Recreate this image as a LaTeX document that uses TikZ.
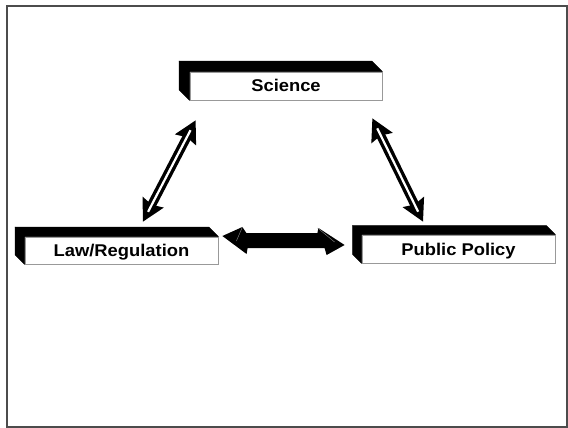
\documentclass[tikz,border=0pt]{standalone}
\usepackage{fontspec}
\setmainfont{Liberation Sans}
\newfontfamily\labelfont[FakeStretch=1.08]{Liberation Sans}
\usetikzlibrary{calc}

\tikzset{
  frontface/.style={draw=black!40, line width=0.8pt, fill=white,
    inner sep=0pt, text height=12pt, text depth=0pt,
    font=\labelfont\fontsize{17}{19}\selectfont\bfseries},
  sideface/.style={fill=black, draw=black, line width=0.4pt, line join=round},
  frameline/.style={draw=black!70, line width=1.6pt},
  facet/.style={draw=black!45, line width=0.4pt}
}

% extruded box: black top and left faces behind a white front face
\newcommand{\extrude}[2]{%
  \fill[sideface] (#1.north west) -- ++(-#2,-#2) -- ($(#1.north east)+(-#2,-#2)$) -- (#1.north east) -- cycle;
  \fill[sideface] (#1.north west) -- ++(-#2,-#2) -- ($(#1.south west)+(-#2,-#2)$) -- (#1.south west) -- cycle;
}

% double-line arrow with black heads at both ends
\newcommand{\twinarrow}[2]{%
  \draw[black, line width=9pt] ($(#1)!16pt!(#2)$) -- ($(#2)!16pt!(#1)$);
  \fill[black] (#1) -- ($($(#1)!22pt!(#2)$)!12pt!90:(#2)$) -- ($(#1)!19pt!(#2)$) -- ($($(#1)!22pt!(#2)$)!12pt!-90:(#2)$) -- cycle;
  \fill[black] (#2) -- ($($(#2)!22pt!(#1)$)!12pt!90:(#1)$) -- ($(#2)!19pt!(#1)$) -- ($($(#2)!22pt!(#1)$)!12pt!-90:(#1)$) -- cycle;
  \draw[white, line width=2.2pt] ($(#1)!11pt!(#2)$) -- ($(#2)!11pt!(#1)$);
}

\begin{document}
\begin{tikzpicture}[x=1pt, y=-1pt]
  \useasboundingbox (0,0) rectangle (568,428);
  \draw[frameline] (7,6) rectangle (567,427);

  % the three boxes
  \node[frontface, minimum width=192pt, minimum height=28pt] (sci) at (286,86) {Science};
  \node[frontface, minimum width=193pt, minimum height=27pt] (law) at (121.5,250.5) {Law/Regulation};
  \node[frontface, minimum width=193pt, minimum height=28pt] (pub) at (458.5,249) {Public Policy};

  \extrude{sci}{10.5}
  \extrude{law}{9.5}
  \extrude{pub}{9}

  % redraw the front faces over the black extrusions
  \node[frontface, minimum width=192pt, minimum height=28pt] at (sci) {Science};
  \node[frontface, minimum width=193pt, minimum height=27pt] at (law) {Law/Regulation};
  \node[frontface, minimum width=193pt, minimum height=28pt] at (pub) {Public Policy};

  % end points of the links
  \coordinate (sl) at ($(sci.south west)+(6,20)$);
  \coordinate (lt) at ($(law.north)+(21.5,-15)$);
  \coordinate (sr) at ($(sci.south east)+(-10,18)$);
  \coordinate (pt) at ($(pub.north)+(-35.5,-13)$);
  \coordinate (le) at ($(law.east)+(4,-14.5)$);
  \coordinate (pw) at ($(pub.west)+(-17,-4)$);

  \twinarrow{sl}{lt}
  \twinarrow{sr}{pt}

  % solid block arrow between law and policy
  \fill[black] (le) -- ++(20,-9) -- ++(4,6) -- ++(71,0) -- ++(1,-5)
    -- (pw) -- ++(-18,10) -- ++(-2,-7) -- ++(-77,0) -- ++(-1,6) -- cycle;
  \draw[facet] ($(le)+(20,-9)$) -- ($(le)+(14,5)$);
  \draw[facet] ($(pw)+(-27,-17)$) -- ($(pw)+(-10,-3)$);
\end{tikzpicture}
\end{document}
